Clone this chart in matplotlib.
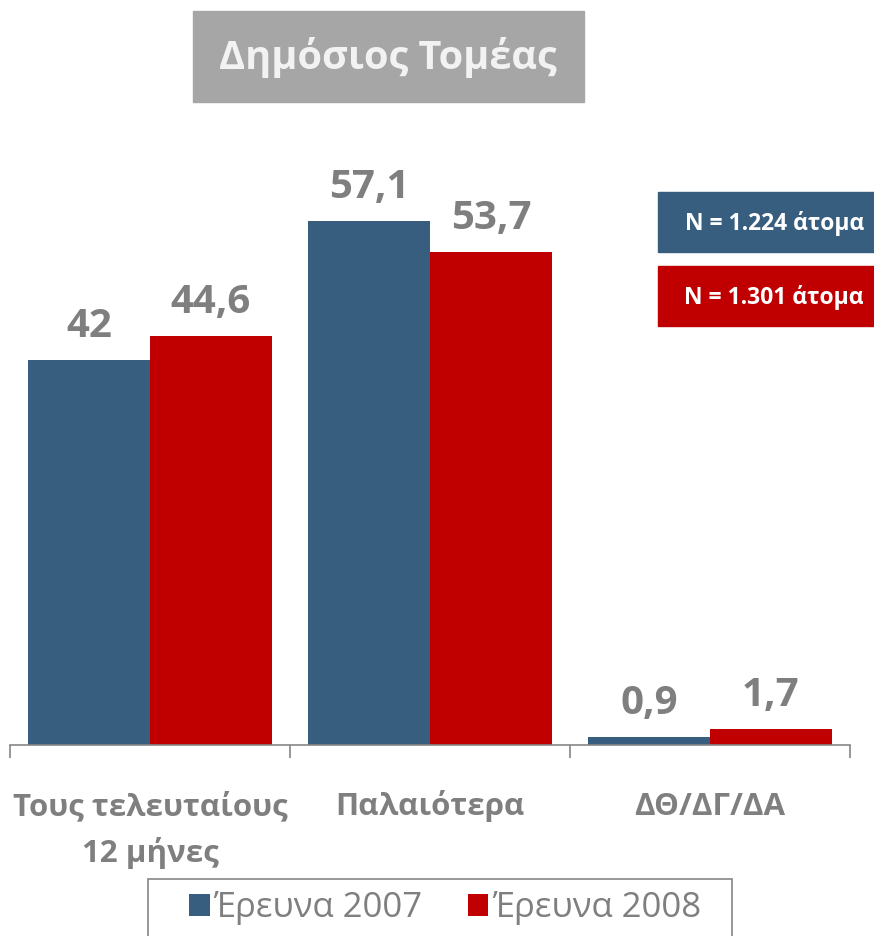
import matplotlib
matplotlib.use('Agg')
import matplotlib.pyplot as plt
import matplotlib.patches as mpatches
import numpy as np

plt.rcParams['font.family'] = ['Open Sans', 'DejaVu Sans']

# data
categories = ['Τους τελευταίους\n12 μήνες', 'Παλαιότερα', 'ΔΘ/ΔΓ/ΔΑ']
series_names = ['Έρευνα 2007', 'Έρευνα 2008']
values_2007 = [42.0, 57.1, 0.9]
values_2008 = [44.6, 53.7, 1.7]
sample_notes = ['N = 1.224 άτομα', 'N = 1.301 άτομα']
title = 'Δημόσιος Τομέας'

blue = '#375E7E'
red = '#C00000'
grey = '#7F7F7F'

W, H = 874, 936
fig = plt.figure(figsize=(W / 100, H / 100), dpi=100)

# pixel helpers (top-left origin)
def fx(px):
    return px / W

def fy(py):
    return 1 - py / H

ymax = 60
base_px = 745
px_per_unit = 9.177
ax = fig.add_axes([fx(10), fy(base_px), 840 / W, ymax * px_per_unit / H])

x = np.arange(len(categories))
bw = 0.435
off = 0.2175
b1 = ax.bar(x - off, values_2007, bw, color=blue, label=series_names[0])
b2 = ax.bar(x + off, values_2008, bw, color=red, label=series_names[1])

def fmt(v):
    s = ('%.1f' % v).replace('.', ',')
    return s[:-2] if s.endswith(',0') else s

for bars, vals in ((b1, values_2007), (b2, values_2008)):
    for r, v in zip(bars, vals):
        ax.annotate(fmt(v), (r.get_x() + r.get_width() / 2, v),
                    xytext=(0, 16.5), textcoords='offset points',
                    ha='center', va='baseline', fontsize=29,
                    fontweight='bold', color=grey)

ax.set_xlim(-0.5, len(categories) - 0.5)
ax.set_ylim(0, ymax)
for s in ['top', 'right', 'left']:
    ax.spines[s].set_visible(False)
ax.spines['bottom'].set_color('#868686')
ax.spines['bottom'].set_linewidth(1.2)
ax.set_yticks([])
ax.set_xticks(np.arange(len(categories) + 1) - 0.5)
ax.set_xticklabels([])
ax.tick_params(axis='x', length=9, width=1.2, color='#868686')
ax.patch.set_visible(False)

# category labels, one line at a time so the baselines sit where they should
for i, c in enumerate(categories):
    for k, line in enumerate(c.split('\n')):
        fig.text(fx(10 + 280 * i + 140), fy(815 + 47 * k), line,
                 ha='center', va='baseline', fontsize=22.5,
                 fontweight='bold', color=grey)

# title box
fig.patches.append(mpatches.Rectangle((fx(193), fy(102)), 391 / W, 91 / H,
                                      transform=fig.transFigure,
                                      color='#A6A6A6', zorder=0))
fig.text(fx(388), fy(57), title, ha='center', va='center', fontsize=28.5,
         fontweight='bold', color='#F2F2F2')

# sample size boxes
for top, col, note in ((192, blue, sample_notes[0]), (266, red, sample_notes[1])):
    fig.patches.append(mpatches.Rectangle((fx(658), fy(top + 60)), 216 / W, 60 / H,
                                          transform=fig.transFigure,
                                          color=col, zorder=0))
    fig.text(fx(864), fy(top + 31), note, ha='right', va='center',
             fontsize=16.5, fontweight='bold', color='white')

# legend frame + entries
fig.patches.append(mpatches.Rectangle((fx(148), fy(940)), 584 / W, 61 / H,
                                      transform=fig.transFigure, fill=False,
                                      edgecolor='#868686', linewidth=1.2))
leg = fig.legend(handles=[b1, b2], loc='center',
                 bbox_to_anchor=(fx(445), fy(908)), ncol=2, frameon=False,
                 fontsize=25, labelcolor=grey, handlelength=0.6,
                 handleheight=0.6, handletextpad=0.1, columnspacing=1.3,
                 borderpad=0, borderaxespad=0)

fig.savefig('out.png', dpi=100)
